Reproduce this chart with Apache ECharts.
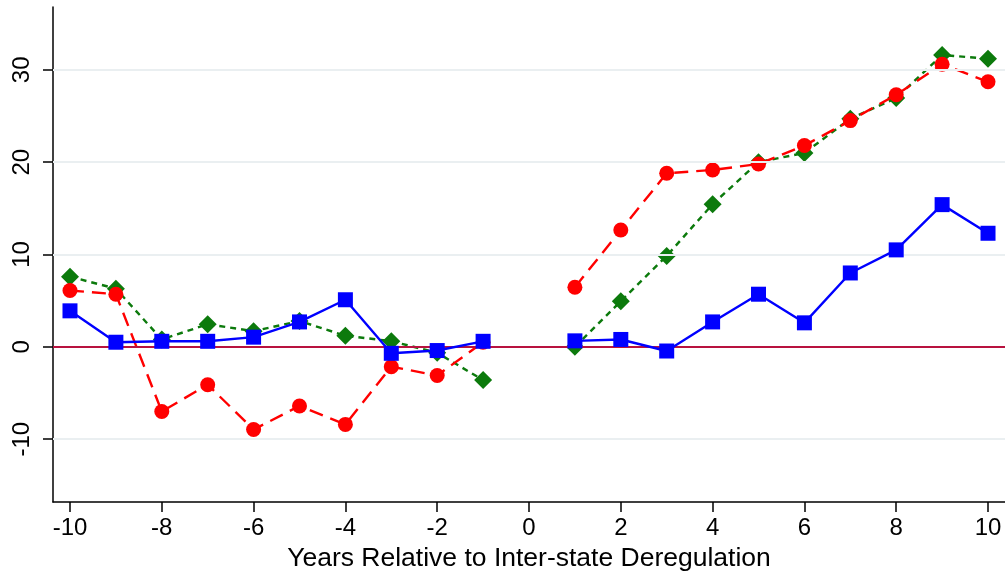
<!DOCTYPE html>
<html>
<head>
<meta charset="utf-8">
<script src="https://cdn.jsdelivr.net/npm/echarts@6/dist/echarts.min.js"></script>
<style>
  html, body { margin: 0; padding: 0; background: #fff; }
  #chart { width: 1005px; height: 572px; }
</style>
</head>
<body>
<div id="chart"></div>
<script>
// Event-time years (0 = year of deregulation, left empty)
const years = [-10, -9, -8, -7, -6, -5, -4, -3, -2, -1, 0, 1, 2, 3, 4, 5, 6, 7, 8, 9, 10];

// Estimated effects by year; '-' marks the omitted base year
const blueVals  = [3.9, 0.5, 0.6, 0.6, 1.05, 2.7, 5.1, -0.7, -0.4, 0.6, '-', 0.65, 0.8, -0.45, 2.7, 5.7, 2.6, 8.0, 10.5, 15.4, 12.3];
const redVals   = [6.1, 5.7, -7.0, -4.1, -8.95, -6.4, -8.4, -2.15, -3.1, 0.5, '-', 6.45, 12.65, 18.8, 19.15, 19.8, 21.8, 24.5, 27.3, 30.6, 28.7];
const greenVals = [7.6, 6.3, 0.8, 2.45, 1.7, 2.8, 1.2, 0.62, -0.64, -3.6, '-', 0.0, 4.95, 9.85, 15.45, 20.0, 21.0, 24.7, 26.95, 31.6, 31.2];

const xTicks = [-10, -8, -6, -4, -2, 0, 2, 4, 6, 8, 10];
const yTicks = [-10, 0, 10, 20, 30];
const gridYs = [-10, 10, 20, 30];

const pairs = vals => years.map((x, i) => [x, vals[i]]);

const chart = echarts.init(document.getElementById('chart'), null, { renderer: 'canvas' });

const font = 'Liberation Sans, Arial, Helvetica, sans-serif';

chart.setOption({
  animation: false,
  backgroundColor: '#ffffff',
  grid: { left: 53, right: 0, top: 7, bottom: 70, containLabel: false, outerBoundsMode: 'none' },
  xAxis: {
    type: 'value',
    min: -10.37, max: 10.37,
    name: 'Years Relative to Inter-state Deregulation',
    nameLocation: 'middle',
    nameGap: 41,
    nameTextStyle: { fontFamily: font, fontSize: 26.5, color: '#000' },
    axisLine: { show: true, onZero: false, lineStyle: { color: '#000', width: 1.5 } },
    axisTick: { show: true, length: 10, inside: false, customValues: xTicks, lineStyle: { color: '#000', width: 1.5 } },
    axisLabel: { customValues: xTicks, fontFamily: font, fontSize: 24, color: '#000', margin: 14 },
    splitLine: { show: false }
  },
  yAxis: {
    type: 'value',
    min: -16.8, max: 36.8,
    axisLine: { show: true, onZero: false, lineStyle: { color: '#000', width: 1.5 } },
    axisTick: { show: true, length: 10, inside: false, customValues: yTicks, lineStyle: { color: '#000', width: 1.5 } },
    axisLabel: { customValues: yTicks, rotate: 90, fontFamily: font, fontSize: 24, color: '#000', margin: 19 },
    splitLine: { show: false }
  },
  series: [
    {
      // horizontal reference lines: light grid plus the zero line
      type: 'line',
      data: [],
      z: 1,
      silent: true,
      markLine: {
        silent: true,
        symbol: 'none',
        label: { show: false },
        animation: false,
        data: gridYs.map(v => ({ yAxis: v, lineStyle: { color: '#eaeff1', width: 2, type: 'solid' } }))
          .concat([{ yAxis: 0, lineStyle: { color: '#b8123f', width: 2, type: 'solid' } }])
      }
    },
    {
      type: 'line',
      data: pairs(greenVals),
      z: 3,
      connectNulls: false,
      symbol: 'diamond',
      symbolSize: 18,
      itemStyle: { color: '#0c7a0c' },
      lineStyle: { color: '#0c7a0c', width: 2.4, type: [6, 5] }
    },
    {
      type: 'line',
      data: pairs(redVals),
      z: 4,
      connectNulls: false,
      symbol: 'circle',
      symbolSize: 15,
      itemStyle: { color: '#ff0000' },
      lineStyle: { color: '#ff0000', width: 2.4, type: [14, 8] }
    },
    {
      type: 'line',
      data: pairs(blueVals),
      z: 5,
      connectNulls: false,
      symbol: 'rect',
      symbolSize: 15,
      itemStyle: { color: '#0000ff' },
      lineStyle: { color: '#0000ff', width: 2.4, type: 'solid' }
    }
  ]
});
</script>
</body>
</html>
